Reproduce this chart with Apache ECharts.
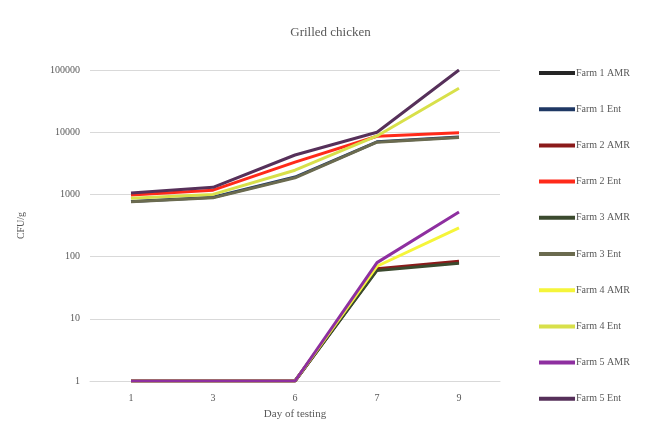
<!DOCTYPE html>
<html>
<head>
<meta charset="utf-8">
<script src="https://cdn.jsdelivr.net/npm/echarts@6/dist/echarts.min.js"></script>
<style>
  html, body { margin: 0; padding: 0; background: #fff; }
  #chart { width: 661px; height: 427px; }
</style>
</head>
<body>
<div id="chart"></div>
<script>
// Days on which the grilled chicken samples were tested
const days = ['1', '3', '6', '7', '9'];

// Series names and colours
const seriesNames = [
  'Farm 1 AMR', 'Farm 1 Ent', 'Farm 2 AMR', 'Farm 2 Ent', 'Farm 3 AMR',
  'Farm 3 Ent', 'Farm 4 AMR', 'Farm 4 Ent', 'Farm 5 AMR', 'Farm 5 Ent'
];
const seriesColors = [
  '#262626', '#1f3864', '#8b1a1a', '#ff2a1a', '#3b4a2e',
  '#6b6b4f', '#f5f53a', '#d8e04a', '#8e2fa0', '#56305a'
];

// CFU/g counts per series (1 = not detected)
const farm1AMR = [1, 1, 1, 62, 80];
const farm1Ent = [770, 900, 1900, 7000, 8400];
const farm2AMR = [1, 1, 1, 64, 84];
const farm2Ent = [980, 1170, 3300, 8600, 9800];
const farm3AMR = [1, 1, 1, 60, 78];
const farm3Ent = [760, 880, 1850, 6900, 8200];
const farm4AMR = [1, 1, 1, 70, 290];
const farm4Ent = [870, 1000, 2450, 8700, 51000];
const farm5AMR = [1, 1, 1, 80, 520];
const farm5Ent = [1050, 1300, 4300, 10000, 100000];

const seriesValues = [
  farm1AMR, farm1Ent, farm2AMR, farm2Ent, farm3AMR,
  farm3Ent, farm4AMR, farm4Ent, farm5AMR, farm5Ent
];

// Y-axis tick labels (log scale)
const yTicks = [1, 10, 100, 1000, 10000, 100000];

const textFont = '"Liberation Serif", "DejaVu Serif", serif';
const chart = echarts.init(document.getElementById('chart'), null, { renderer: 'canvas' });

chart.setOption({
  backgroundColor: '#ffffff',
  animation: false,
  title: {
    text: 'Grilled chicken',
    left: 'center',
    top: 21,
    textStyle: { fontFamily: textFont, fontSize: 13, fontWeight: 'normal', color: '#595959' }
  },
  legend: {
    orient: 'vertical',
    left: 534,
    top: 61,
    icon: 'rect',
    itemWidth: 36,
    itemHeight: 4,
    itemGap: 22.2,
    data: seriesNames.map(function (n, i) {
      return { name: n, itemStyle: { color: seriesColors[i] } };
    }),
    textStyle: { fontFamily: textFont, fontSize: 10, lineHeight: 14, height: 14, color: '#595959', padding: [0, 0, 0, -4] }
  },
  grid: { left: 90, right: 161, top: 70, bottom: 46, containLabel: false },
  xAxis: {
    type: 'category',
    data: days,
    boundaryGap: true,
    name: 'Day of testing',
    nameLocation: 'middle',
    nameGap: 28,
    nameTextStyle: { fontFamily: textFont, fontSize: 11, color: '#595959' },
    axisLine: { lineStyle: { color: '#d9d9d9' } },
    axisTick: { show: false },
    axisLabel: { fontFamily: textFont, fontSize: 10, color: '#595959', margin: 12 }
  },
  yAxis: {
    type: 'log',
    logBase: 10,
    min: yTicks[0],
    max: yTicks[yTicks.length - 1],
    name: 'CFU/g',
    nameLocation: 'middle',
    nameGap: 64,
    nameTextStyle: { fontFamily: textFont, fontSize: 10, color: '#595959' },
    axisLine: { show: false },
    axisTick: { show: false },
    splitLine: { lineStyle: { color: '#d9d9d9', width: 1 } },
    axisLabel: {
      fontFamily: textFont, fontSize: 10, color: '#595959', margin: 10,
      formatter: function (v) { return String(Math.round(v)); }
    }
  },
  series: seriesNames.map(function (n, i) {
    return {
      name: n,
      type: 'line',
      data: seriesValues[i],
      symbol: 'none',
      color: seriesColors[i],
      lineStyle: { width: 3, color: seriesColors[i] },
      itemStyle: { color: seriesColors[i] }
    };
  })
});
</script>
</body>
</html>
